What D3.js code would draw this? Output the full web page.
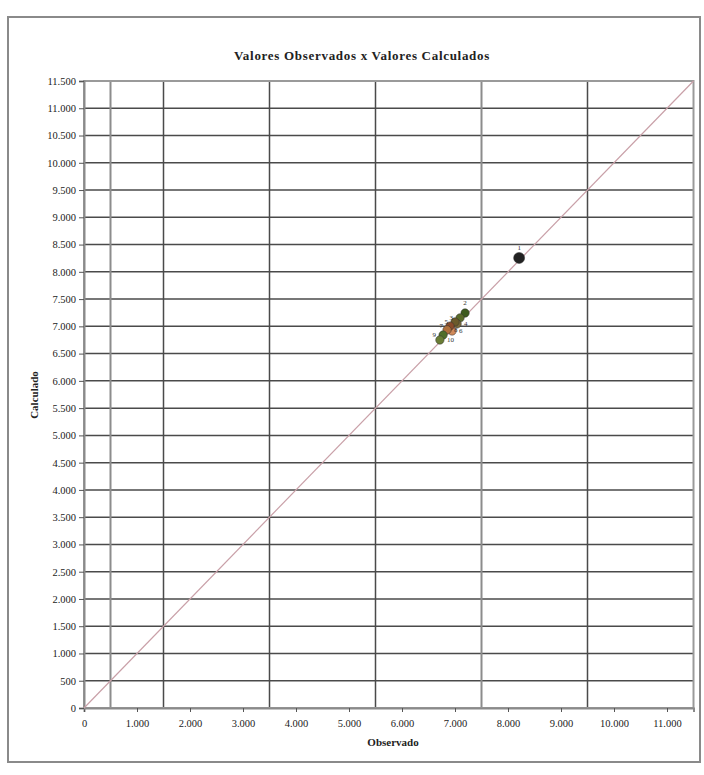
<!DOCTYPE html>
<html>
<head>
<meta charset="utf-8">
<script src="https://cdn.jsdelivr.net/npm/d3@7"></script>
<style>
	body { margin: 0; background: #fff; }
	text { font-family: "Liberation Serif", "DejaVu Serif", serif; }
</style>
</head>
<body>
<div id="chart"></div>
<script>
var title = "Valores Observados x Valores Calculados"
var xLabel = "Observado"
var yLabel = "Calculado"

// ticks
var xTicks = d3.range(0, 11001, 1000)
var yTicks = d3.range(0, 11501, 500)
// vertical grid lines that are visible in the picture
var xGrid = [500, 1500, 3500, 5500, 7500, 9500]

// points: observed, calculated, label, colour
var obs = [8210, 7190, 7095, 7040, 7000, 6945, 6905, 6850, 6775, 6715]
var calc = [8255, 7245, 7155, 7045, 7080, 6915, 7005, 6935, 6840, 6750]
var labels = ["1", "2", "3", "4", "5", "6", "7", "8", "9", "10"]
var colors = ["#222222", "#3d5a1e", "#5a6b2a", "#7a6a3a", "#6b5a2a", "#d08a5a", "#8a4b2a", "#b0703c", "#4f6e2a", "#6a7d35"]

var w = 704
var h = 775
var m = { left: 84, right: 693.5, top: 81, bottom: 708 }

var svg = d3.select("#chart").append("svg")
	.attr("width", w)
	.attr("height", h)

// outer frame
svg.append("rect")
	.attr("x", 8).attr("y", 17)
	.attr("width", 692).attr("height", 745)
	.attr("fill", "none")
	.attr("stroke", "#8a8a8a")
	.attr("stroke-width", 2)

var x = d3.scaleLinear().domain([0, 11500]).range([m.left, m.right])
var y = d3.scaleLinear().domain([0, 11500]).range([m.bottom, m.top])

// horizontal grid
svg.append("g").selectAll("line")
	.data(yTicks.filter(d => d > 0))
	.enter().append("line")
	.attr("x1", m.left).attr("x2", m.right)
	.attr("y1", d => y(d)).attr("y2", d => y(d))
	.attr("stroke", "#4a4a4a")
	.attr("stroke-width", 1.5)

// vertical grid
svg.append("g").selectAll("line")
	.data(xGrid)
	.enter().append("line")
	.attr("x1", d => x(d)).attr("x2", d => x(d))
	.attr("y1", m.top).attr("y2", m.bottom)
	.attr("stroke", (d, i) => (i == 0 || i == 4) ? "#8c8c8c" : "#4a4a4a")
	.attr("stroke-width", (d, i) => (i == 0 || i == 4) ? 2 : 1.5)

// plot border
svg.append("rect")
	.attr("x", m.left).attr("y", m.top)
	.attr("width", m.right - m.left).attr("height", m.bottom - m.top)
	.attr("fill", "none")
	.attr("stroke", "#9a9a9a")
	.attr("stroke-width", 2)

// axes
var fmt = d => d == 0 ? "0" : d3.format(",")(d).replace(/,/g, ".")
var xAxis = d3.axisBottom(x)
	.tickValues(xTicks)
	.tickSize(4)
	.tickFormat(fmt)
var yAxis = d3.axisLeft(y)
	.tickValues(yTicks)
	.tickSize(5)
	.tickFormat(fmt)

var gx = svg.append("g")
	.attr("transform", "translate(0," + m.bottom + ")")
	.call(xAxis)
var gy = svg.append("g")
	.attr("transform", "translate(" + m.left + ",0)")
	.call(yAxis)

;[gx, gy].forEach(g => {
	g.select(".domain").attr("stroke", "#8a8a8a").attr("stroke-width", 2)
	g.selectAll(".tick line").attr("stroke", "#555")
	g.selectAll(".tick text")
		.attr("fill", "#222")
		.style("font-family", "Liberation Serif, serif")
		.style("font-size", "10.5px")
})
gx.selectAll(".tick text").attr("dy", "1.1em")

// diagonal
svg.append("line")
	.attr("x1", x(0)).attr("y1", y(0))
	.attr("x2", x(11500)).attr("y2", y(11500))
	.attr("stroke", "#c9a0a8")
	.attr("stroke-width", 1.2)

// points
var pts = svg.append("g")
pts.selectAll("circle")
	.data(obs)
	.enter().append("circle")
	.attr("cx", (d, i) => x(d))
	.attr("cy", (d, i) => y(calc[i]))
	.attr("r", (d, i) => i == 0 ? 5.5 : 4.2)
	.attr("fill", (d, i) => colors[i])
	.attr("stroke", "#333")
	.attr("stroke-width", 0.5)

// labels: first two above, the rest alternating left / right of the cluster
pts.selectAll("text")
	.data(obs)
	.enter().append("text")
	.attr("x", (d, i) => i < 2 ? x(d) : (i % 2 ? x(d) + 7 : x(d) - 7))
	.attr("y", (d, i) => i < 2 ? y(calc[i]) - 8 : y(calc[i]) + 2)
	.attr("text-anchor", (d, i) => i < 2 ? "middle" : (i % 2 ? "start" : "end"))
	.style("font-size", "7px")
	.attr("fill", "#333")
	.text((d, i) => labels[i])

// title and axis labels
svg.append("text")
	.attr("x", 362).attr("y", 60)
	.attr("text-anchor", "middle")
	.style("font-size", "13px")
	.style("letter-spacing", "0.7px")
	.style("font-weight", "bold")
	.attr("fill", "#222")
	.text(title)

svg.append("text")
	.attr("x", 393).attr("y", 746)
	.attr("text-anchor", "middle")
	.style("font-size", "11px")
	.style("font-weight", "bold")
	.attr("fill", "#222")
	.text(xLabel)

svg.append("text")
	.attr("transform", "translate(38," + 395 + ") rotate(-90)")
	.attr("text-anchor", "middle")
	.style("font-size", "11px")
	.style("font-weight", "bold")
	.attr("fill", "#222")
	.text(yLabel)
</script>
</body>
</html>
